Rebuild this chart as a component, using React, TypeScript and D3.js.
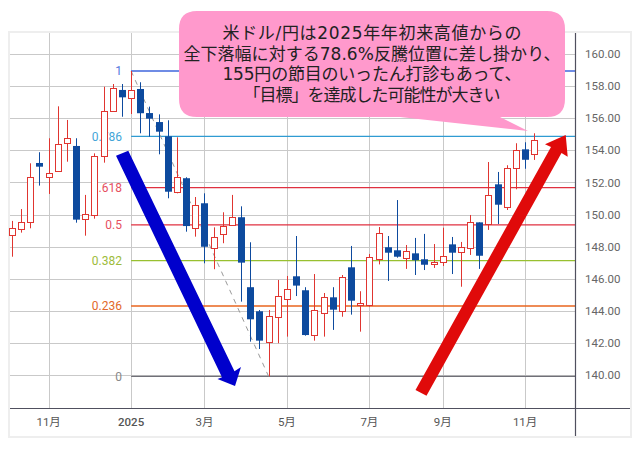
import React from "react";
import * as d3 from "d3";

const highs = [149.60,150.34,153.19,153.88,154.75,156.74,155.89,154.75,151.22,153.81,157.96,158.13,158.13,158.94,158.24,156.72,156.24,155.87,154.81,152.32,151.09,151.32,149.20,150.14,151.22,150.51,148.27,144.05,144.05,145.92,146.17,148.66,145.47,146.29,145.11,145.47,146.23,148.04,145.22,147.54,149.22,148.66,150.90,148.10,148.54,148.79,148.16,149.18,148.60,148.29,149.97,149.51,153.27,152.65,153.07,154.44,154.50,155.06];
const lows = [147.37,148.87,149.14,151.80,151.28,152.69,153.29,149.49,148.68,149.74,153.23,156.43,156.09,156.26,155.06,154.85,153.75,151.01,151.32,148.93,148.62,146.96,146.59,148.21,149.33,144.57,142.08,141.62,139.92,141.98,142.39,144.92,142.45,142.14,142.39,142.81,143.63,143.76,142.70,144.26,146.89,145.86,147.31,146.61,146.23,146.54,146.67,146.79,146.29,145.50,147.48,146.61,149.04,149.41,150.28,151.57,152.85,153.40];
const opens = [148.68,149.08,149.51,153.21,152.32,152.69,154.44,154.27,149.70,149.93,153.63,156.43,157.76,157.24,157.82,156.32,155.76,154.87,151.38,152.26,149.20,150.70,147.96,148.77,149.33,149.83,145.47,143.97,142.04,143.60,144.72,146.15,145.28,142.47,143.85,144.84,143.97,146.71,144.34,144.38,147.20,147.96,147.77,147.25,147.58,147.21,146.90,147.00,148.14,147.62,147.90,149.51,149.39,151.88,150.42,152.88,154.06,153.75];
const closes = [149.14,149.51,152.32,152.98,152.60,154.37,154.75,149.68,150.01,153.63,156.45,157.86,157.30,157.74,156.31,155.97,155.16,151.42,152.32,149.28,150.62,147.99,148.62,149.27,149.83,147.00,143.47,142.14,143.66,144.90,145.34,145.57,142.49,144.03,144.84,144.07,146.09,144.63,144.47,147.38,148.83,147.62,147.37,147.71,147.15,146.87,147.02,147.40,147.62,147.96,149.51,147.43,151.20,150.61,152.88,154.00,153.41,154.62];

const priceTicks = [140,142,144,146,148,150,152,154,156,158,160];
const timeTickIndex = [4,13,21,30,39,47,56];
const timeTickLabels = ["11月","2025","3月","5月","7月","9月","11月"];

const fibLabels = ["1","0.786",".618","0.5","0.382","0.236","0"];
const fibValues = [158.94,154.87,151.68,149.35,147.12,144.30,139.92];
const fibColors = ["#3f66dc","#2f9bd2","#e03040","#e03040","#98c030","#e8641e","#707078"];
const fibTextColors = ["#5577dd","#44a5d8","#e6505f","#e6505f","#9dbb3a","#e2682a","#888888"];

const calloutLines = [
  "米ドル/円は2025年年初来高値からの",
  "全下落幅に対する78.6%反騰位置に差し掛かり、",
  "155円の節目のいったん打診もあって、",
  "「目標」を達成した可能性が大きい",
];
const calloutWidths = [299, 377, 299, 257];

const W = 640, H = 450;
const left = 10, right = 630, axisX = 575, top = 33, axisY = 408, bottom = 436;
const x = d3.scaleLinear().domain([0, 57]).range([12, 534.3]);
const y = d3.scaleLinear().domain([140, 160]).range([375, 54]);
const UP = "#e03530", DOWN = "#0d4a9e";
const FONT = "Roboto, 'Noto Sans CJK JP', sans-serif";
const crisp = (v: number) => Math.round(v) + 0.5;

const bluePts = "116,155.7 128.3,150.7 234.5,371.3 241,367 235,386 217.5,379 222,377.3";
const redPts = "415.5,390 426.5,395.7 561.5,153 567.7,156.7 565.7,135 545,144.3 551,147";
const bubble = "M197,11 H547 Q565,11 565,29 V99 Q565,117 547,117 H500 L528,131 L400,117 H197 Q179,117 179,99 V29 Q179,11 197,11 Z";

export default function App() {
  const first = d3.range(highs.length);
  const tri = `M${x(13)},${y(fibValues[0])} L${x(28)},${y(fibValues[6])}`;
  const lineY = [38.5, 59.5, 80, 100.5];
  return (
    <svg width={W} height={H} style={{ position: "absolute", left: 0, top: 0, background: "#fff" }} fontFamily={FONT}>
      <rect x={left - 1} y={top - 1} width={right - left + 2} height={bottom - top + 2} fill="#fff" stroke="#eeeeee" strokeWidth={2} />
      {priceTicks.map((p) => (
        <line key={p} x1={left} x2={axisX} y1={crisp(y(p))} y2={crisp(y(p))} stroke="#c9c9c9" />
      ))}
      {timeTickIndex.map((i) => (
        <line key={i} x1={crisp(x(i))} x2={crisp(x(i))} y1={top} y2={axisY} stroke="#c9c9c9" />
      ))}
      {fibValues.map((v, i) => (
        <g key={i}>
          <line x1={x(13)} x2={axisX} y1={y(v)} y2={y(v)} stroke={fibColors[i]} strokeWidth={1.3} />
          <text x={122} y={y(v)} dy="0.36em" fontSize={12} textAnchor="end" fill={fibTextColors[i]}>{fibLabels[i]}</text>
        </g>
      ))}
      <path d={tri} stroke="#999" strokeDasharray="5 5" fill="none" />
      {first.map((i) => {
        const up = closes[i] >= opens[i];
        const c = up ? UP : DOWN;
        const cx = crisp(x(i));
        const t = y(Math.max(opens[i], closes[i]));
        const b = y(Math.min(opens[i], closes[i]));
        return (
          <g key={i}>
            <line x1={cx} x2={cx} y1={y(highs[i])} y2={y(lows[i])} stroke={c} />
            {up ? (
              <rect x={cx - 3} y={Math.round(t) + 0.5} width={6} height={Math.max(1, Math.round(b - t))} fill="#fff" stroke={c} />
            ) : (
              <rect x={cx - 3.5} y={t} width={7} height={Math.max(1, b - t)} fill={c} />
            )}
          </g>
        );
      })}
      <line x1={left} x2={right} y1={axisY + 0.5} y2={axisY + 0.5} stroke="#50505f" strokeWidth={1.2} />
      <line x1={axisX + 0.5} x2={axisX + 0.5} y1={top} y2={bottom} stroke="#50505f" strokeWidth={1.2} />
      {priceTicks.map((p) => (
        <text key={p} x={585} y={y(p)} dy="0.36em" fontSize={11.5} fill="#666">{p.toFixed(2)}</text>
      ))}
      {timeTickIndex.map((idx, i) => (
        <text key={idx} x={x(idx)} y={422} dy="0.36em" fontSize={11.5} textAnchor="middle" fill="#555" fontWeight={timeTickLabels[i] === "2025" ? 500 : 400}>{timeTickLabels[i]}</text>
      ))}
      <polygon points={bluePts} fill="#0000cc" />
      <polygon points={redPts} fill="#e00a0a" />
      <path d={bubble} fill="#ff99cc" />
      <text fontSize={17} fill="#222" fontFamily="'DejaVu Sans', 'Noto Sans CJK JP', sans-serif">
        {calloutLines.map((s, i) => (
          <tspan key={i} x={372 - calloutWidths[i] / 2} y={lineY[i]} textLength={calloutWidths[i]} lengthAdjust="spacing">{s}</tspan>
        ))}
      </text>
    </svg>
  );
}
